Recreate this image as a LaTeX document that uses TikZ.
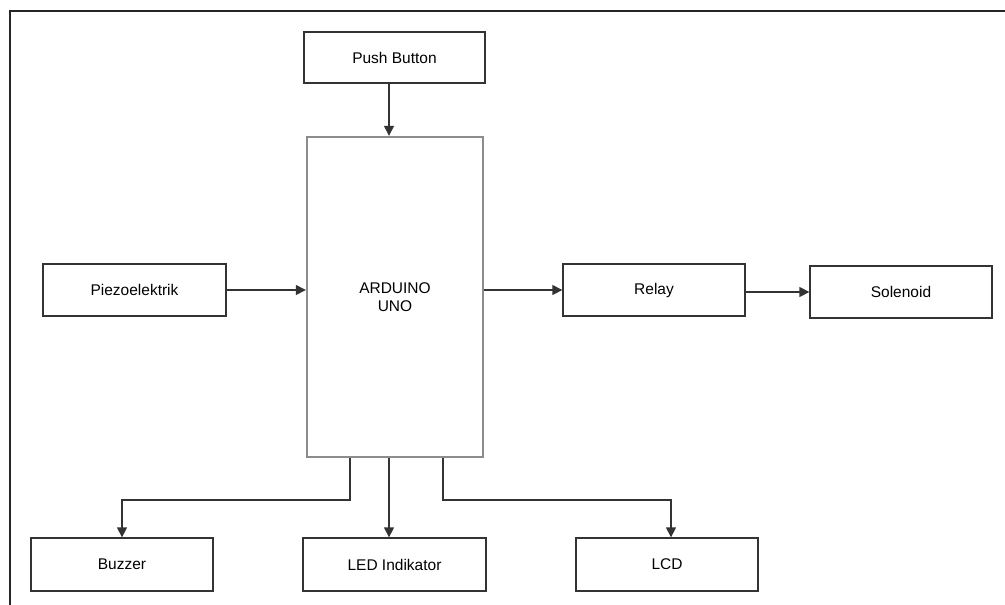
\documentclass[tikz,border=0pt]{standalone}
\usepackage{fontspec}
\setmainfont{Liberation Sans}
\usetikzlibrary{arrows.meta}
\begin{document}
\begin{tikzpicture}[x=1pt,y=-1pt,
  blk/.style={draw=black!80,line width=1.3pt,fill=white,inner sep=0pt,font=\fontsize{15.5}{18.5}\selectfont},
  conn/.style={draw=black!80,line width=1.3pt,-{Triangle[length=10pt,width=10pt]}}]
\useasboundingbox[fill=white] (0,0) rectangle (1005,605);
\draw[black!85,line width=2pt] (10,605) -- (10,11) -- (1005,11);
% boxes
\node[blk,minimum width=181pt,minimum height=51pt] (pb) at (394.5,57.5) {Push Button};
\node[blk,draw=black!45,line width=2.4pt,minimum width=176pt,minimum height=320pt,align=center] (ard) at (395,297) {ARDUINO\\UNO};
\node[blk,minimum width=183pt,minimum height=52pt] (pz) at (134.5,290) {Piezoelektrik};
\node[blk,minimum width=182pt,minimum height=52pt] (rl) at (654,290) {Relay};
\node[blk,minimum width=182pt,minimum height=52pt] (sl) at (901,292) {Solenoid};
\node[blk,minimum width=182pt,minimum height=53pt] (bz) at (122,564.5) {Buzzer};
\node[blk,minimum width=183pt,minimum height=53pt] (led) at (394.5,564.5) {LED Indikator};
\node[blk,minimum width=182pt,minimum height=53pt] (lcd) at (667,564.5) {LCD};
% connectors
\draw[conn] (pb.south -| 389,0) -- (ard.north -| 389,0);
\draw[conn] (pz.east) -- (ard.west |- pz.east);
\draw[conn] (ard.east |- rl.west) -- (rl.west);
\draw[conn] (rl.east |- sl.west) -- (sl.west);
\coordinate (b1) at (350,500);
\coordinate (b2) at (443,500);
\draw[conn] (ard.south -| b1) -- (b1) -| (bz.north);
\draw[conn] (ard.south -| 389,0) -- (led.north -| 389,0);
\draw[conn] (ard.south -| b2) -- (b2) -| (lcd.north -| 671,0);
\end{tikzpicture}
\end{document}
